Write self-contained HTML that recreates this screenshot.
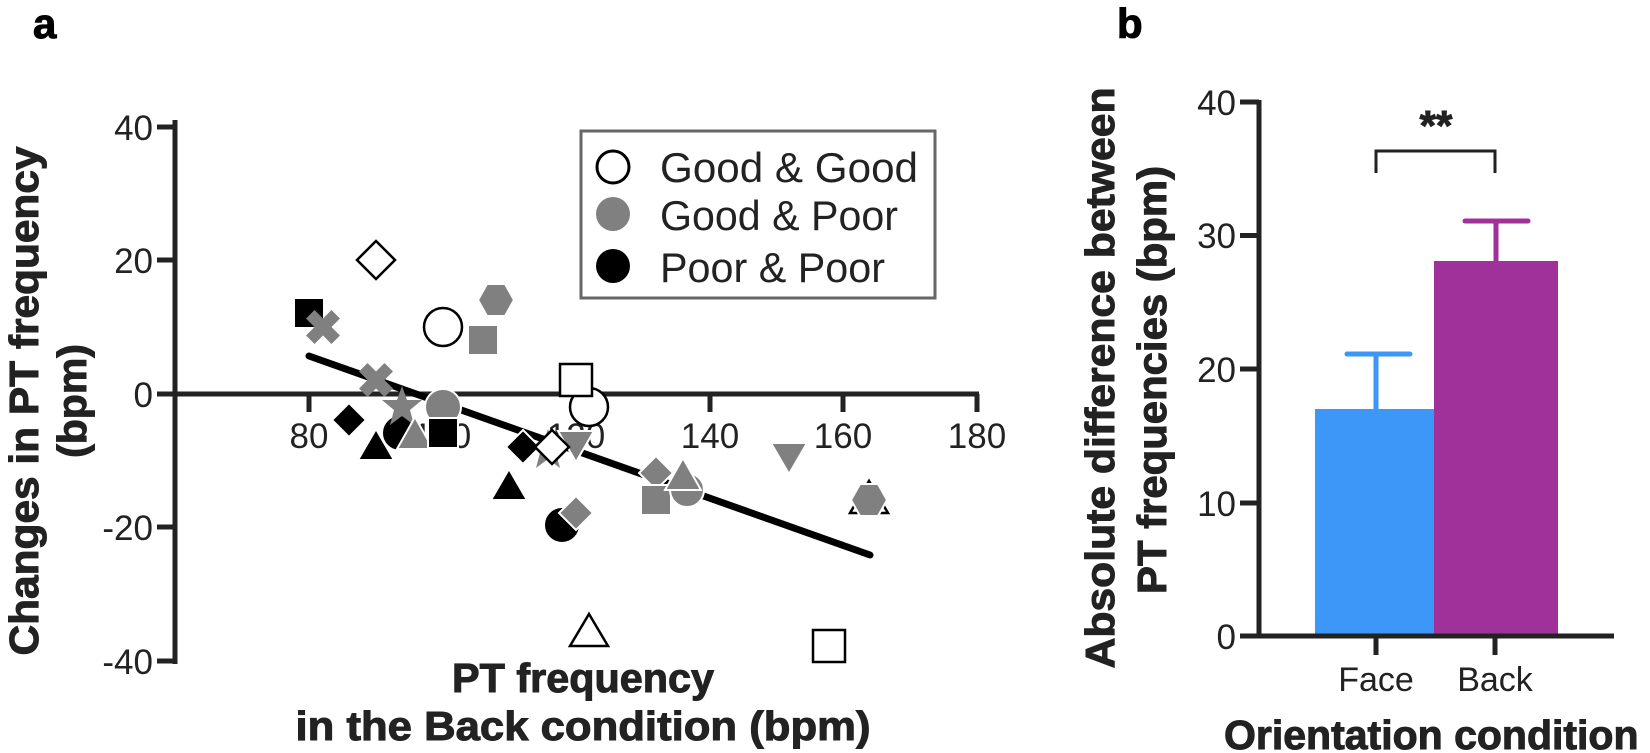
<!DOCTYPE html>
<html><head><meta charset="utf-8"><style>html,body{margin:0;padding:0;background:#fff}svg{display:block}</style></head>
<body>
<svg width="1650" height="753" viewBox="0 0 1650 753" xmlns="http://www.w3.org/2000/svg" font-family="Liberation Sans, Arial, sans-serif">
<rect width="1650" height="753" fill="#fff"/>
<g stroke="#000" stroke-width="1">
<text x="33" y="38" font-size="42" font-weight="bold">a</text>
<text x="1117" y="38" font-size="42" font-weight="bold">b</text>
</g>

<g stroke="#222" stroke-width="5" fill="none">
<line x1="175" y1="120" x2="175" y2="664"/>
<line x1="175" y1="394" x2="979" y2="394"/>
<line x1="157" y1="127" x2="175" y2="127"/>
<line x1="157" y1="260" x2="175" y2="260"/>
<line x1="157" y1="394" x2="175" y2="394"/>
<line x1="157" y1="527" x2="175" y2="527"/>
<line x1="157" y1="661" x2="175" y2="661"/>
<line x1="309" y1="394" x2="309" y2="412"/>
<line x1="442" y1="394" x2="442" y2="412"/>
<line x1="576" y1="394" x2="576" y2="412"/>
<line x1="710" y1="394" x2="710" y2="412"/>
<line x1="843" y1="394" x2="843" y2="412"/>
<line x1="977" y1="394" x2="977" y2="412"/>
</g>
<g font-size="35" fill="#222" text-anchor="end">
<text x="153" y="140">40</text>
<text x="153" y="273">20</text>
<text x="153" y="407">0</text>
<text x="153" y="540">-20</text>
<text x="153" y="674">-40</text>
</g>
<g font-size="35" fill="#222" text-anchor="middle">
<text x="309" y="448">80</text>
<text x="442" y="448">100</text>
<text x="576" y="448">120</text>
<text x="710" y="448">140</text>
<text x="843" y="448">160</text>
<text x="977" y="448">180</text>
</g>
<g font-weight="bold" fill="#222" stroke="#222" stroke-width="1" font-size="41">
<text transform="translate(38,401) rotate(-90)" text-anchor="middle" textLength="509" lengthAdjust="spacingAndGlyphs">Changes in PT frequency</text>
<text transform="translate(86,401) rotate(-90)" text-anchor="middle">(bpm)</text>
<text x="583" y="692" text-anchor="middle" textLength="262" lengthAdjust="spacingAndGlyphs">PT frequency</text>
<text x="583" y="740" text-anchor="middle" textLength="575" lengthAdjust="spacingAndGlyphs">in the Back condition (bpm)</text>
</g>

<rect x="581" y="131" width="354" height="167" fill="#fff" stroke="#666" stroke-width="3"/>
<circle cx="613" cy="167" r="16" fill="#fff" stroke="#000" stroke-width="3"/>
<circle cx="613" cy="214" r="17" fill="#808080"/>
<circle cx="613" cy="266" r="17" fill="#000"/>
<g font-size="42" fill="#222">
<text x="660" y="182" textLength="258" lengthAdjust="spacingAndGlyphs">Good &amp; Good</text>
<text x="660" y="230" textLength="238" lengthAdjust="spacingAndGlyphs">Good &amp; Poor</text>
<text x="660" y="282" textLength="225" lengthAdjust="spacingAndGlyphs">Poor &amp; Poor</text>
</g>

<line x1="309" y1="356" x2="870" y2="555" stroke="#000" stroke-width="7" stroke-linecap="round"/>

<g stroke="#fff" stroke-width="2">
<rect x="294" y="298" width="30" height="30" fill="#000"/>
<g fill="#808080" stroke="none">
<path transform="translate(323,327) rotate(45)" d="M-18,-6 H-6 V-18 H6 V-6 H18 V6 H6 V18 H-6 V6 H-18Z"/>
<path transform="translate(376,380) rotate(45)" d="M-18,-6 H-6 V-18 H6 V-6 H18 V6 H6 V18 H-6 V6 H-18Z"/>
</g>
<polygon transform="translate(496,300)" points="-18,0 -9,-16 9,-16 18,0 9,16 -9,16" fill="#808080"/>
<rect x="468" y="325" width="30" height="30" fill="#808080"/>
<polygon transform="translate(349,420)" points="0,-17 17,0 0,17 -17,0" fill="#000"/>
<circle cx="400" cy="433" r="18" fill="#000"/>
<polygon transform="translate(376,448)" points="0,-19 18,12 -18,12" fill="#000"/>
<polygon transform="translate(402,407)" points="0,-21 5,-7 20,-7 8,3 12,18 0,9 -12,18 -8,3 -20,-7 -5,-7" fill="#808080" stroke="none"/>
<polygon transform="translate(415,437)" points="0,-20 18,12 -18,12" fill="#808080"/>
<circle cx="443" cy="407" r="18" fill="#808080"/>
<rect x="428" y="418" width="30" height="30" fill="#000"/>
<polygon transform="translate(509,488)" points="0,-19 18,12 -18,12" fill="#000"/>
<polygon transform="translate(548,450)" points="0,-21 5,-7 20,-7 8,3 12,18 0,9 -12,18 -8,3 -20,-7 -5,-7" fill="#808080" stroke="none"/>
<polygon transform="translate(523,447)" points="0,-17 17,0 0,17 -17,0" fill="#000"/>
<polygon transform="translate(576,443)" points="-18,-12 18,-12 0,19" fill="#808080"/>
<circle cx="562" cy="525" r="18" fill="#000"/>
<polygon transform="translate(576,513)" points="0,-17 17,0 0,17 -17,0" fill="#808080"/>
<polygon transform="translate(656,473)" points="0,-17 17,0 0,17 -17,0" fill="#808080"/>
<rect x="641" y="485" width="30" height="30" fill="#808080"/>
<circle cx="687" cy="490" r="17" fill="#808080"/>
<polygon transform="translate(683,478)" points="0,-20 18,12 -18,12" fill="#808080"/>
<polygon transform="translate(789,455)" points="-18,-12 18,-12 0,19" fill="#808080"/>
</g>
<g fill="#fff" stroke="#000" stroke-width="2.5">
<polygon transform="translate(376,260)" points="0,-19 19,0 0,19 -19,0"/>
<circle cx="443" cy="327" r="19"/>
<polygon transform="translate(552,447)" points="0,-17 17,0 0,17 -17,0"/>
<circle cx="589" cy="407" r="19"/>
<rect x="560" y="364" width="32" height="32"/>
<polygon transform="translate(589,633)" points="0,-19 19,13 -19,13"/>
<polygon transform="translate(869,500)" points="0,-19 19,13 -19,13"/>
<rect x="813" y="630" width="32" height="32"/>
</g>
<polygon transform="translate(869,500)" points="-18,0 -9,-16 9,-16 18,0 9,16 -9,16" fill="#808080" stroke="#fff" stroke-width="2"/>

<rect x="1315" y="409" width="119" height="227" fill="#3d97f8"/>
<rect x="1434" y="261" width="124" height="375" fill="#a0319a"/>
<g stroke-width="5" stroke-linecap="round">
<line x1="1376" y1="409" x2="1376" y2="354" stroke="#3d97f8"/>
<line x1="1347" y1="354" x2="1410" y2="354" stroke="#3d97f8"/>
<line x1="1496" y1="261" x2="1496" y2="221" stroke="#a0319a"/>
<line x1="1465" y1="221" x2="1528" y2="221" stroke="#a0319a"/>
</g>
<g stroke="#222" stroke-width="5" fill="none">
<line x1="1259" y1="100" x2="1259" y2="638"/>
<line x1="1257" y1="636" x2="1614" y2="636"/>
<line x1="1240" y1="102" x2="1259" y2="102"/>
<line x1="1240" y1="235.5" x2="1259" y2="235.5"/>
<line x1="1240" y1="369" x2="1259" y2="369"/>
<line x1="1240" y1="503" x2="1259" y2="503"/>
<line x1="1240" y1="636" x2="1259" y2="636"/>
<line x1="1376" y1="636" x2="1376" y2="655"/>
<line x1="1495" y1="636" x2="1495" y2="655"/>
</g>
<path d="M1376,173 V151 H1495 V173" stroke="#222" stroke-width="3" fill="none"/>
<text x="1436" y="140" font-size="42" font-weight="bold" text-anchor="middle" fill="#222" stroke="#222" stroke-width="1">**</text>
<g font-size="35" fill="#222" text-anchor="end">
<text x="1236" y="115">40</text>
<text x="1236" y="248">30</text>
<text x="1236" y="382">20</text>
<text x="1236" y="516">10</text>
<text x="1236" y="649">0</text>
</g>
<g font-size="34" fill="#222" text-anchor="middle">
<text x="1376" y="691">Face</text>
<text x="1495" y="691">Back</text>
</g>
<g font-weight="bold" fill="#222" stroke="#222" stroke-width="1" font-size="41">
<text transform="translate(1114,378) rotate(-90)" text-anchor="middle" textLength="581" lengthAdjust="spacingAndGlyphs">Absolute difference between</text>
<text transform="translate(1166,380) rotate(-90)" text-anchor="middle" textLength="428" lengthAdjust="spacingAndGlyphs">PT frequencies (bpm)</text>
<text x="1224" y="749">Orientation condition</text>
</g>
</svg>
</body></html>
